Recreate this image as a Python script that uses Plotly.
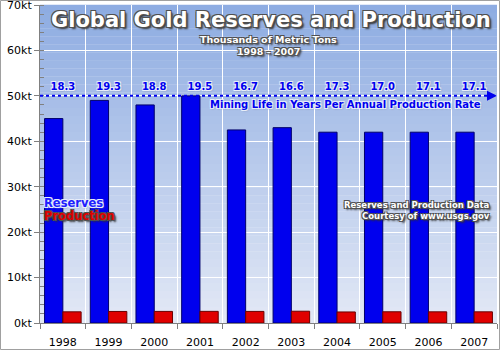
import plotly.graph_objects as go

years = ["1998", "1999", "2000", "2001", "2002", "2003", "2004", "2005", "2006", "2007"]
reserves = [45.0, 49.0, 48.0, 50.0, 42.5, 43.0, 42.0, 42.0, 42.0, 42.0]
production = [2.46, 2.54, 2.55, 2.56, 2.55, 2.59, 2.43, 2.47, 2.46, 2.46]
mining_life = ["18.3", "19.3", "18.8", "19.5", "16.7", "16.6", "17.3", "17.0", "17.1", "17.1"]
y_ticks = [0, 10, 20, 30, 40, 50, 60, 70]

L, R, T, B = 40, 3, 5, 27
W, H = 500, 350
PW, PH = W - L - R, H - T - B

def px_to_paper_x(px):
    return (px - L) / PW

def px_to_paper_y(py):
    return (H - B - py) / PH

outline_dark = ("-1px -1px 0 #505050, 1px -1px 0 #505050, -1px 1px 0 #505050, "
                "1px 1px 0 #505050, 2px 2px 2px #303030")
outline_light = ("-1px -1px 0 #e8eefa, 1px -1px 0 #e8eefa, -1px 1px 0 #e8eefa, "
                 "1px 1px 0 #e8eefa, 1px 1px 2px #8090b0")

fig = go.Figure()
fig.add_trace(go.Bar(
    x=years, y=reserves, name="Reserves",
    marker=dict(color="#0000ee", line=dict(color="#00006a", width=1)),
))
fig.add_trace(go.Bar(
    x=years, y=production, name="Production",
    marker=dict(color="#e00000", line=dict(color="#6a0000", width=1)),
))
fig.add_trace(go.Scatter(
    x=years, y=[51.8] * len(years), mode="text", text=mining_life,
    textfont=dict(family="DejaVu Sans", size=10, color="#0000ee", weight="bold",
                  shadow=outline_light),
    showlegend=False, hoverinfo="skip",
))

shapes = []
n = 40
top = (142, 172, 226)
bot = (226, 232, 245)
for i in range(n):
    f = i / (n - 1)
    c = tuple(round(top[k] + (bot[k] - top[k]) * f) for k in range(3))
    shapes.append(dict(type="rect", xref="paper", yref="paper",
                       x0=0, x1=1, y0=1 - (i + 1) / n, y1=1 - i / n + 0.001,
                       fillcolor="rgb(%d,%d,%d)" % c, line=dict(width=0),
                       layer="below"))
shapes.append(dict(type="line", xref="paper", yref="y", x0=0, x1=0.995,
                   y0=50, y1=50, line=dict(color="#0000ee", width=2, dash="dot")))
shapes.append(dict(type="rect", xref="paper", yref="paper",
                   x0=px_to_paper_x(0.5), x1=px_to_paper_x(499.5),
                   y0=px_to_paper_y(349.5), y1=px_to_paper_y(0.5),
                   line=dict(color="#a0a0a0", width=1), fillcolor="rgba(0,0,0,0)"))

def ann(text, px, py, size, color, shadow, xanchor="center"):
    return dict(text=text, xref="paper", yref="paper",
                x=px_to_paper_x(px), y=px_to_paper_y(py),
                xanchor=xanchor, yanchor="middle", showarrow=False,
                font=dict(family="DejaVu Sans", size=size, color=color,
                          weight="bold", shadow=shadow))

annotations = [
    ann("Global Gold Reserves and Production", 271, 20, 21, "white", outline_dark),
    ann("Thousands of Metric Tons", 268, 40, 9.5, "white", outline_dark),
    ann("1998 - 2007", 268, 52, 9.5, "white", outline_dark),
    ann("Mining Life in Years Per Annual Production Rate", 483, 104, 10, "#0000ee",
        outline_light, "right"),
    ann("Reserves", 42, 203, 11.5, "#2020ff", outline_light, "left"),
    ann("Production", 42, 216, 11.5, "#e00000", outline_dark, "left"),
    ann("Reserves and Production Data", 492, 205, 8.5, "white", outline_dark, "right"),
    ann("Courtesy of www.usgs.gov", 492, 216, 8.5, "white", outline_dark, "right"),
    dict(text="", xref="paper", yref="y", x=1.0, y=50, ax=-8, ay=0,
         showarrow=True, arrowhead=2, arrowsize=1, arrowwidth=2, arrowcolor="#0000ee"),
]

fig.update_layout(
    width=W, height=H,
    margin=dict(l=L, r=R, t=T, b=B),
    paper_bgcolor="white",
    plot_bgcolor="rgba(0,0,0,0)",
    barmode="group", bargap=0.2, bargroupgap=0,
    showlegend=False,
    shapes=shapes,
    annotations=annotations,
    font=dict(family="DejaVu Sans", size=11, color="black"),
    xaxis=dict(
        type="category", range=[-0.5, 9.5], tickson="boundaries",
        showgrid=True, gridcolor="white", gridwidth=1,
        ticks="outside", ticklen=5, tickcolor="#808080",
        showline=True, linecolor="#808080", linewidth=1,
        tickfont=dict(family="DejaVu Sans", size=11, color="black"),
        ticklabelstandoff=9, automargin=False,
    ),
    yaxis=dict(
        range=[0, 70], tickvals=y_ticks, ticktext=["%dkt" % v for v in y_ticks],
        showgrid=True, gridcolor="white", gridwidth=1,
        ticks="outside", ticklen=5, tickcolor="#808080",
        showline=True, linecolor="#808080", linewidth=1,
        tickfont=dict(family="DejaVu Sans", size=11, color="black"),
        ticklabeloverflow="allow", automargin=False,
        minor=dict(dtick=2, ticks="inside", ticklen=4, tickcolor="#808080", showgrid=False),
        zeroline=False,
    ),
)

fig.write_html("out.html")
